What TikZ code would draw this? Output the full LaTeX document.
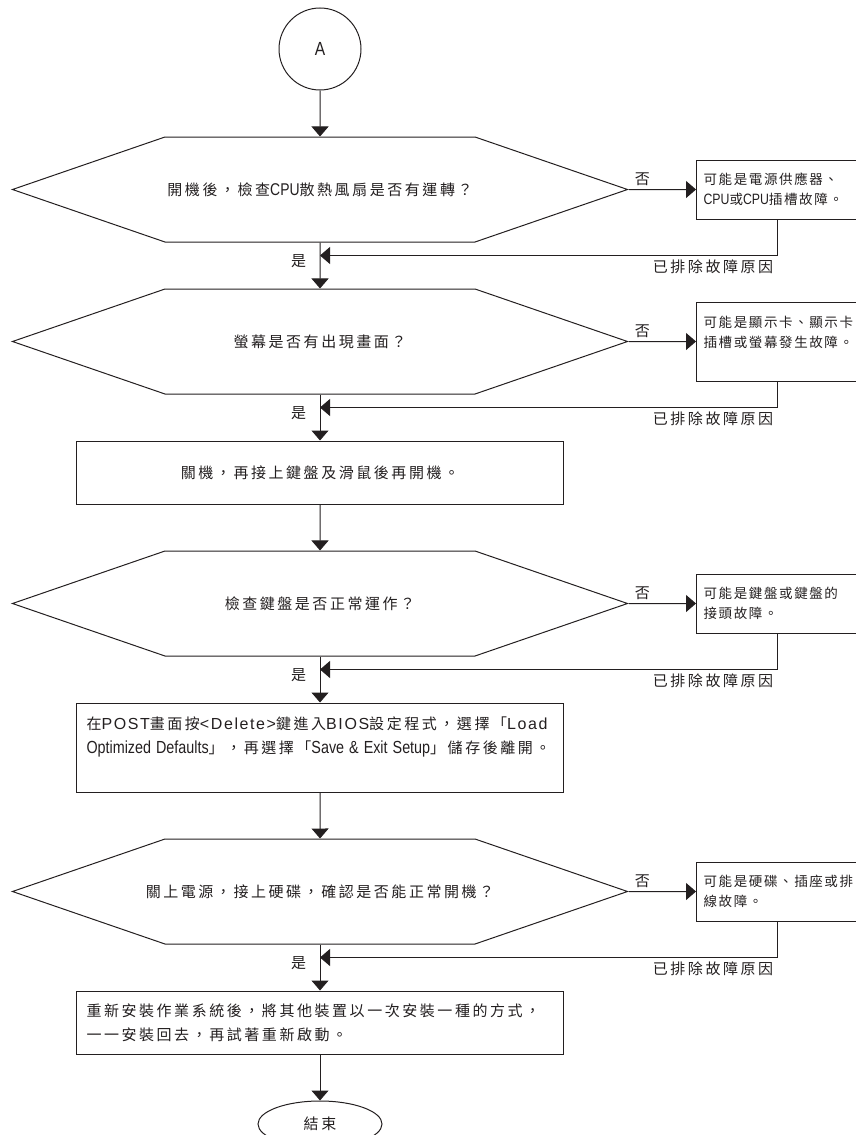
\documentclass[tikz,border=0pt]{standalone}
\usepackage{fontspec}
\usetikzlibrary{arrows.meta,positioning,shapes.geometric,shapes.symbols}
\newfontfamily\hanfont[LetterSpace=17]{Noto Sans CJK TC}
\newfontfamily\hansmall[LetterSpace=12]{Noto Sans CJK TC}
\newfontfamily\latfont[LetterSpace=10]{Liberation Sans}
\newfontfamily\narfont[FakeStretch=0.82]{Liberation Sans}
\definecolor{ink}{HTML}{231F20}
\tikzset{
  >={Triangle[length=10pt,width=17pt]},
  every node/.style={text=ink},
  maintext/.style={font=\hanfont\fontsize{15}{24}\selectfont},
  sidetext/.style={font=\hansmall\fontsize{13.5}{20}\selectfont},
  conn/.style={circle,draw=ink,line width=1pt,minimum size=82pt,inner sep=0pt,font=\narfont\fontsize{19}{20}\selectfont},
  question/.style={signal,signal to=east and west,signal pointer angle=38,draw=ink,line width=1pt,minimum width=615pt,minimum height=105pt,inner xsep=-25pt,maintext},
  action/.style={draw=ink,line width=1pt,text width=467pt,inner xsep=10pt,minimum height=63pt,align=left,maintext},
  cause/.style={draw=ink,line width=1pt,text width=147pt,inner xsep=7pt,minimum height=59pt,align=left,sidetext},
  finish/.style={ellipse,draw=ink,line width=1pt,minimum width=124pt,minimum height=46pt,inner sep=0pt,maintext},
  arrow/.style={->,draw=ink,line width=1pt},
  yeslabel/.style={left=10pt,maintext},
  nolabel/.style={above,maintext},
  backlabel/.style={below left,maintext},
}
\newcommand{\nar}[1]{{\narfont\fontsize{17.5}{20}\selectfont #1}}
\newcommand{\narsm}[1]{{\narfont\fontsize{15}{20}\selectfont #1}}
\newcommand{\lat}[1]{{\latfont\fontsize{16}{24}\selectfont #1}}

\begin{document}
\begin{tikzpicture}[node distance=46pt]
\useasboundingbox (0,0) rectangle (856pt,-1135pt);

\node[conn] (a) at (320pt,-49pt) {A};
\node[question,below=of a] (q1) {開機後，檢查{\narfont\fontsize{17}{20}\selectfont CPU}散熱風扇是否有運轉？};
\node[cause,right=67pt of q1] (f1) {可能是電源供應器、\\\narsm{CPU}或\narsm{CPU}插槽故障。};
\node[question,below=of q1] (q2) {螢幕是否有出現畫面？};
\node[cause,minimum height=79pt,right=67pt of q2] (f2) {可能是顯示卡、顯示卡\\插槽或螢幕發生故障。\\\mbox{}};
\node[action,align=center,below=of q2] (s1) {關機，再接上鍵盤及滑鼠後再開機。};
\node[question,below=of s1] (q3) {檢查鍵盤是否正常運作？};
\node[cause,right=67pt of q3] (f3) {可能是鍵盤或鍵盤的\\接頭故障。};
\node[action,minimum height=89pt,below=of q3] (s2) {在\lat{POST}畫面按\lat{<Delete>}鍵進入\lat{BIOS}設定程式，選擇「\lat{Load}\\\mbox{\nar{Optimized Defaults}」，再選擇「\nar{Save \& Exit Setup}」儲存後離開。}\\\mbox{}};
\node[question,below=of s2] (q4) {關上電源，接上硬碟，確認是否能正常開機？};
\node[cause,right=67pt of q4] (f4) {可能是硬碟、插座或排\\線故障。};
\node[action,below=of q4] (s3) {重新安裝作業系統後，將其他裝置以一次安裝一種的方式，\\一一安裝回去，再試著重新啟動。};
\node[finish,below=of s3] (end) {結束};

\coordinate[below=13pt of q1.south] (j1);
\coordinate[below=13pt of q2.south] (j2);
\coordinate[below=13pt of q3.south] (j3);
\coordinate[below=13pt of q4.south] (j4);

\draw[arrow] (a) -- (q1);
\draw[arrow] (q1) -- node[yeslabel,pos=0.4] {是} (q2);
\draw[arrow] (q2) -- node[yeslabel,pos=0.4] {是} (s1);
\draw[arrow] (s1) -- (q3);
\draw[arrow] (q3) -- node[yeslabel,pos=0.4] {是} (s2);
\draw[arrow] (s2) -- (q4);
\draw[arrow] (q4) -- node[yeslabel,pos=0.4] {是} (s3);
\draw[arrow] (s3) -- (end);

\draw[arrow] (q1) -- node[nolabel,pos=0.2] {否} (f1);
\draw[arrow] (q2) -- node[nolabel,pos=0.2] {否} (f2);
\draw[arrow] (q3) -- node[nolabel,pos=0.2] {否} (f3);
\draw[arrow] (q4) -- node[nolabel,pos=0.2] {否} (f4);

\draw[arrow] (f1.south) |- node[backlabel,pos=0.5] {已排除故障原因} (j1);
\draw[arrow] (f2.south) |- node[backlabel,pos=0.5] {已排除故障原因} (j2);
\draw[arrow] (f3.south) |- node[backlabel,pos=0.5] {已排除故障原因} (j3);
\draw[arrow] (f4.south) |- node[backlabel,pos=0.5] {已排除故障原因} (j4);

\end{tikzpicture}
\end{document}
